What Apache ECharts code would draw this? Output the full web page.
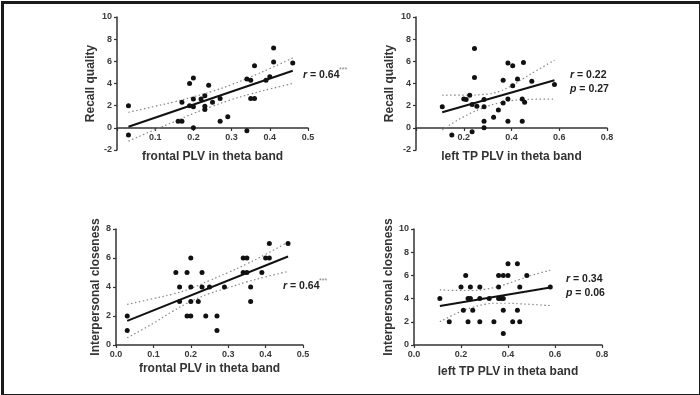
<!DOCTYPE html>
<html><head><meta charset="utf-8">
<script src="https://cdn.jsdelivr.net/npm/echarts@6/dist/echarts.min.js"></script>
<style>html,body{margin:0;padding:0;background:#fff}#c{width:700px;height:395px}</style>
</head><body><div id="c"></div>
<script>
// Panel 1: frontal PLV vs Recall quality
const p1X = [0.03,0.03,0.16,0.17,0.17,0.19,0.19,0.20,0.20,0.20,0.20,0.22,0.23,0.23,0.23,0.24,0.25,0.27,0.27,0.29,0.34,0.34,0.35,0.35,0.36,0.36,0.39,0.40,0.41,0.41,0.46];
const p1Y = [2.0,-0.65,0.6,0.6,2.3,4.0,2.0,4.5,2.6,1.9,0.0,2.6,2.9,1.95,1.65,3.85,2.3,2.65,0.6,1.0,-0.27,4.4,4.3,2.65,2.65,5.6,4.3,4.6,7.2,5.95,5.85];
const p1FitX = [0.03,0.46];
const p1FitY = [0.1,5.15];
const p1BandX = [0.03,0.1,0.15,0.2,0.25,0.3,0.35,0.4,0.46];
const p1Upper = [1.4,1.95,2.35,2.8,3.3,3.9,4.6,5.35,6.3];
const p1Lower = [-1.2,-0.15,0.55,1.3,1.95,2.55,3.05,3.5,4.0];

// Panel 2: left TP PLV vs Recall quality
const p2X = [0.11,0.15,0.20,0.21,0.225,0.235,0.245,0.245,0.235,0.255,0.285,0.285,0.285,0.285,0.325,0.345,0.365,0.365,0.385,0.385,0.385,0.405,0.405,0.425,0.45,0.445,0.455,0.445,0.485,0.58];
const p2Y = [1.9,-0.65,2.6,2.55,2.95,2.1,7.15,4.55,-0.35,1.95,2.55,1.9,0.6,0.0,0.95,1.6,4.3,2.25,5.85,2.6,0.6,5.6,3.8,4.4,5.9,2.6,2.3,0.6,4.2,3.9];
const p2FitX = [0.11,0.58];
const p2FitY = [1.4,4.3];
const p2BandX = [0.11,0.2,0.3,0.35,0.4,0.45,0.5,0.58];
const p2Upper = [2.95,2.95,3.05,3.3,3.8,4.45,5.1,6.1];
const p2Lower = [-0.2,1.0,1.95,2.25,2.45,2.55,2.58,2.6];

// Panel 3: frontal PLV vs Interpersonal closeness
const p3X = [0.03,0.03,0.16,0.17,0.17,0.19,0.19,0.20,0.20,0.20,0.20,0.22,0.23,0.23,0.24,0.25,0.27,0.27,0.29,0.34,0.34,0.35,0.35,0.36,0.36,0.39,0.40,0.41,0.41,0.46];
const p3Y = [2,1,5,4,3,5,2,6,4,3,2,3,5,4,2,4,2,1,4,6,5,6,5,4,3,5,6,6,7,7];
const p3FitX = [0.03,0.46];
const p3FitY = [1.66,6.1];
const p3BandX = [0.03,0.1,0.15,0.2,0.25,0.3,0.35,0.4,0.46];
const p3Upper = [2.8,3.2,3.5,3.9,4.45,5.0,5.6,6.25,7.1];
const p3Lower = [0.5,1.5,2.3,3.0,3.55,3.95,4.35,4.7,5.07];

// Panel 4: left TP PLV vs Interpersonal closeness
const p4X = [0.11,0.15,0.20,0.21,0.22,0.23,0.23,0.24,0.24,0.25,0.28,0.28,0.28,0.32,0.34,0.36,0.36,0.36,0.37,0.38,0.38,0.38,0.38,0.40,0.40,0.42,0.44,0.44,0.45,0.45,0.48,0.58];
const p4Y = [4,2,5,3,6,4,2,4,5,3,5,4,2,4,2,6,5,4,4,6,4,3,1,6,7,2,7,3,5,2,6,5];
const p4FitX = [0.11,0.58];
const p4FitY = [3.37,4.96];
const p4BandX = [0.11,0.2,0.25,0.3,0.35,0.4,0.45,0.5,0.58];
const p4Upper = [4.75,4.7,4.7,4.8,5.0,5.3,5.65,6.0,6.45];
const p4Lower = [2.0,2.9,3.25,3.5,3.6,3.6,3.55,3.5,3.4];

const xTicks1 = ['', '0.1', '0.2', '0.3', '0.4', '0.5'];
const xTicks2 = ['', '0.2', '0.4', '0.6', '0.8'];
const xTicks3 = ['0.0', '0.1', '0.2', '0.3', '0.4', '0.5'];
const xTicks4 = ['0.0', '0.2', '0.4', '0.6', '0.8'];

const xTitle1 = 'frontal PLV in theta band';
const xTitle2 = 'left TP PLV in theta band';
const yTitleTop = 'Recall quality';
const yTitleBottom = 'Interpersonal closeness';

const zip = (a, b) => a.map((v, i) => [v, b[i]]);
const AX = '#333';
const FONT = 'Liberation Sans, Arial, sans-serif';

function xAxis(gi, max, interval, labels, name, gap, offset) {
  return {
    type: 'value', gridIndex: gi, min: 0, max: max, interval: interval,
    position: 'bottom', offset: offset,
    name: name, nameLocation: 'middle', nameGap: gap,
    nameTextStyle: { fontFamily: FONT, fontWeight: 'bold', fontSize: 12, color: '#333' },
    axisLine: { show: true, onZero: false, lineStyle: { color: AX, width: 1.5 } },
    axisTick: { show: true, length: 3, lineStyle: { color: AX, width: 1.2 } },
    axisLabel: { fontFamily: FONT, fontSize: 9, fontWeight: 'bold', color: '#3a3a3a', margin: 5,
      formatter: v => labels[Math.round(v / interval)] },
    splitLine: { show: false }
  };
}
function yAxis(gi, min, max, name, gap) {
  return {
    type: 'value', gridIndex: gi, min: min, max: max, interval: 2,
    name: name, nameLocation: 'middle', nameGap: gap,
    nameTextStyle: { fontFamily: FONT, fontWeight: 'bold', fontSize: 12, color: '#333' },
    axisLine: { show: true, onZero: false, lineStyle: { color: AX, width: 1.5 } },
    axisTick: { show: true, length: 3, lineStyle: { color: AX, width: 1.2 } },
    axisLabel: { fontFamily: FONT, fontSize: 9, fontWeight: 'bold', color: '#3a3a3a', margin: 5 },
    splitLine: { show: false }
  };
}
function panelSeries(gi, xs, ys, fx, fy, bx, up, lo) {
  const band = (d) => ({
    type: 'line', xAxisIndex: gi, yAxisIndex: gi, data: zip(bx, d), smooth: true,
    symbol: 'none', silent: true,
    lineStyle: { color: '#888', width: 1.2, type: [1.5, 2.5] }, z: 2
  });
  return [
    band(up), band(lo),
    { type: 'line', xAxisIndex: gi, yAxisIndex: gi, data: zip(fx, fy), symbol: 'none',
      lineStyle: { color: '#111', width: 2 }, z: 3 },
    { type: 'scatter', xAxisIndex: gi, yAxisIndex: gi, data: zip(xs, ys), symbolSize: 5,
      itemStyle: { color: '#111', opacity: 1 }, z: 4 }
  ];
}
function annot(x, y, rVal, pVal, stars) {
  const rich = { i: { fontStyle: 'italic', fontWeight: 'bold', fontSize: 10.5, fontFamily: FONT, fill: '#222' },
                 n: { fontWeight: 'bold', fontSize: 10.5, fontFamily: FONT, fill: '#222' } };
  const els = [{
    type: 'text', left: x, top: y,
    style: { rich: rich, text: '{i|r}{n| = ' + rVal + '}' }
  }];
  if (pVal) els.push({
    type: 'text', left: x, top: y + 14,
    style: { rich: rich, text: '{i|p}{n| = ' + pVal + '}' }
  });
  if (stars) els.push({
    type: 'text', left: x + 36, top: y - 3,
    style: { text: stars, fontSize: 7, fontFamily: FONT, fill: '#888' }
  });
  return els;
}

const chart = echarts.init(document.getElementById('c'), null, { renderer: 'canvas' });
chart.setOption({
  animation: false,
  backgroundColor: '#fff',
  grid: [
    { left: 117, top: 17, width: 191, height: 133 },
    { left: 416, top: 17, width: 191, height: 133 },
    { left: 116, top: 229, width: 187, height: 116 },
    { left: 414, top: 229, width: 188, height: 116 }
  ],
  xAxis: [
    xAxis(0, 0.5, 0.1, xTicks1, xTitle1, 23, -22),
    xAxis(1, 0.8, 0.2, xTicks2, xTitle2, 23, -22),
    xAxis(2, 0.5, 0.1, xTicks3, xTitle1, 18, 0),
    xAxis(3, 0.8, 0.2, xTicks4, xTitle2, 21, 0)
  ],
  yAxis: [
    yAxis(0, -2, 10, yTitleTop, 20),
    yAxis(1, -2, 10, yTitleTop, 20),
    yAxis(2, 0, 8, yTitleBottom, 14),
    yAxis(3, 0, 10, yTitleBottom, 19)
  ],
  series: [].concat(
    panelSeries(0, p1X, p1Y, p1FitX, p1FitY, p1BandX, p1Upper, p1Lower),
    panelSeries(1, p2X, p2Y, p2FitX, p2FitY, p2BandX, p2Upper, p2Lower),
    panelSeries(2, p3X, p3Y, p3FitX, p3FitY, p3BandX, p3Upper, p3Lower),
    panelSeries(3, p4X, p4Y, p4FitX, p4FitY, p4BandX, p4Upper, p4Lower)
  ),
  graphic: [
    { type: 'rect', left: 0, top: 0, silent: true,
      shape: { x: 0, y: 0, width: 698, height: 393 },
      style: { fill: 'none', stroke: '#1a1a1a', lineWidth: 3 } }
  ].concat(
    annot(303, 70, '0.64', null, '***'),
    annot(570, 70, '0.22', '0.27', null),
    annot(283, 281, '0.64', null, '***'),
    annot(566, 274, '0.34', '0.06', null)
  )
});
</script></body></html>
